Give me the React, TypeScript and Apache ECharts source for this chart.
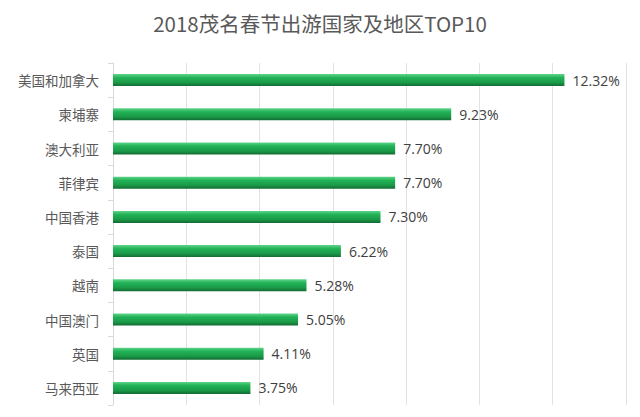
import React, { useEffect, useRef } from "react";
import * as echarts from "echarts";

const categories = ["美国和加拿大", "柬埔寨", "澳大利亚", "菲律宾", "中国香港", "泰国", "越南", "中国澳门", "英国", "马来西亚"];
const values = [12.32, 9.23, 7.7, 7.7, 7.3, 6.22, 5.28, 5.05, 4.11, 3.75];
const titleText = "2018茂名春节出游国家及地区TOP10";

export default function App() {
  const ref = useRef<HTMLDivElement>(null);
  useEffect(() => {
    if (!ref.current) return;
    const chart = echarts.init(ref.current, null, { renderer: "svg" });
    chart.setOption({
      animation: false,
      backgroundColor: "#ffffff",
      title: {
        text: titleText,
        left: "center",
        top: 8,
        textStyle: { fontSize: 20.5, fontWeight: "normal", color: "#595959", fontFamily: "Noto Sans CJK SC" },
      },
      grid: { left: 113, right: 14, top: 63, bottom: 12 },
      xAxis: {
        type: "value",
        min: 0,
        max: 14,
        interval: 2,
        axisLabel: { show: false },
        axisLine: { show: false },
        axisTick: { show: false },
        splitLine: { lineStyle: { color: "#e3e3e3", width: 1 } },
      },
      yAxis: {
        type: "category",
        data: categories,
        inverse: true,
        axisLine: { lineStyle: { color: "#d9d9d9" } },
        axisTick: { show: true, length: 5, lineStyle: { color: "#d9d9d9" } },
        axisLabel: { color: "#595959", fontSize: 13.5, margin: 14, fontFamily: "Noto Sans CJK SC" },
      },
      series: [
        {
          type: "bar",
          data: values,
          barWidth: 12,
          itemStyle: {
            color: new echarts.graphic.LinearGradient(0, 0, 0, 1, [
              { offset: 0, color: "#5fd58a" },
              { offset: 0.3, color: "#22b257" },
              { offset: 0.7, color: "#1a9a48" },
              { offset: 1, color: "#136b33" },
            ]),
          },
          label: {
            show: true,
            position: "right",
            distance: 8,
            formatter: (p: any) => p.value.toFixed(2) + "%",
            color: "#404040",
            fontSize: 14,
            fontFamily: "Open Sans",
          },
        },
      ],
    });
    return () => chart.dispose();
  }, []);
  return <div ref={ref} style={{ position: "absolute", left: 0, top: 0, width: 640, height: 417 }} />;
}
